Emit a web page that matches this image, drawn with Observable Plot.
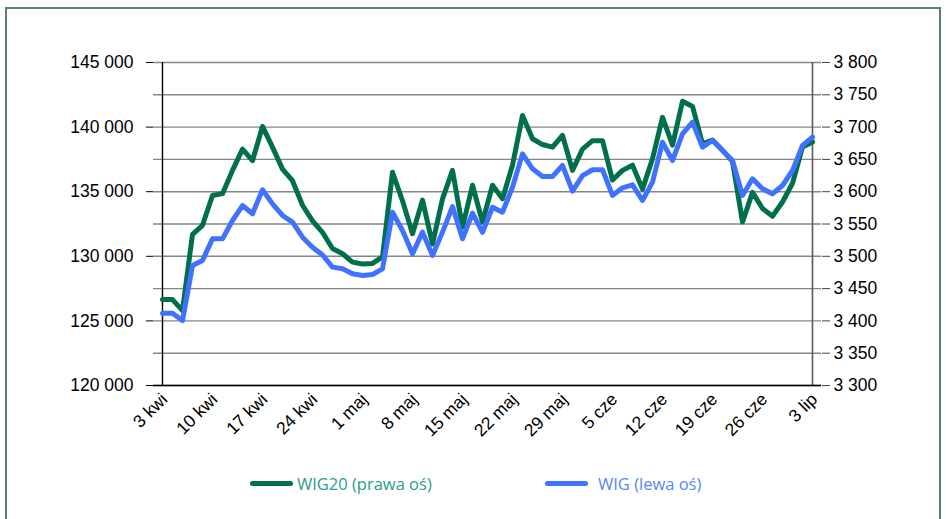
<!DOCTYPE html>
<html><head><meta charset="utf-8">
<script src="https://cdn.jsdelivr.net/npm/d3@7"></script>
<script src="https://cdn.jsdelivr.net/npm/@observablehq/plot@0.6"></script>
<style>
body{margin:0;background:#fff;}
#wrap{position:relative;width:946px;height:519px;overflow:hidden;font-family:"Liberation Sans",Arial,sans-serif;}
#frame{position:absolute;left:5px;top:7px;width:936px;height:530px;border:2px solid #5b7f7c;box-sizing:border-box;}
#chart{position:absolute;left:0;top:0;width:946px;}
#chart svg{max-width:none;}
#legend{position:absolute;top:471px;left:0;width:946px;height:24px;font-family:"Open Sans",sans-serif;font-size:16.5px;}
.item{position:absolute;top:0;display:flex;align-items:center;height:24px;white-space:nowrap}
.sw{width:43px;height:5px;border-radius:3px}
</style></head>
<body>
<div id="wrap">
  <div id="frame"></div>
  <div id="chart"></div>
  <div id="legend"></div>
</div>
<script>
const dates = [
 "2023-04-03","2023-04-04","2023-04-05","2023-04-06","2023-04-07",
 "2023-04-10","2023-04-11","2023-04-12","2023-04-13","2023-04-14",
 "2023-04-17","2023-04-18","2023-04-19","2023-04-20","2023-04-21",
 "2023-04-24","2023-04-25","2023-04-26","2023-04-27","2023-04-28",
 "2023-05-01","2023-05-02","2023-05-03","2023-05-04","2023-05-05",
 "2023-05-08","2023-05-09","2023-05-10","2023-05-11","2023-05-12",
 "2023-05-15","2023-05-16","2023-05-17","2023-05-18","2023-05-19",
 "2023-05-22","2023-05-23","2023-05-24","2023-05-25","2023-05-26",
 "2023-05-29","2023-05-30","2023-05-31","2023-06-01","2023-06-02",
 "2023-06-05","2023-06-06","2023-06-07","2023-06-08","2023-06-09",
 "2023-06-12","2023-06-13","2023-06-14","2023-06-15","2023-06-16",
 "2023-06-19","2023-06-20","2023-06-21","2023-06-22","2023-06-23",
 "2023-06-26","2023-06-27","2023-06-28","2023-06-29","2023-06-30",
 "2023-07-03"
];
const tickLabels = ["3 kwi","10 kwi","17 kwi","24 kwi","1 maj","8 maj","15 maj","22 maj","29 maj","5 cze","12 cze","19 cze","26 cze","3 lip"];
// WIG20 (right axis)
const wig20 = [
 3433,3433,3416,3534,3548, 3594,3597,3633,3666,3648,
 3701,3669,3635,3617,3579, 3555,3537,3512,3504,3491,
 3488,3489,3499,3630,3586, 3535,3587,3519,3589,3633,
 3545,3610,3553,3610,3589, 3641,3718,3682,3673,3669,
 3687,3633,3666,3679,3679, 3618,3633,3641,3604,3651,
 3715,3672,3740,3732,3674, 3680,3664,3647,3553,3599,
 3574,3562,3584,3613,3669, 3677
];
// WIG (left axis)
const wig = [
 125600,125600,125030,129290,129680, 131350,131350,132770,133930,133290,
 135150,134060,133160,132640,131480, 130700,130100,129160,129030,128650,
 128510,128590,129030,133410,132000, 130190,131870,130060,131870,133850,
 131360,133340,131850,133800,133410, 135350,137930,136770,136180,136180,
 137030,135040,136250,136700,136700, 134710,135300,135530,134320,135740,
 138830,137420,139480,140380,138450, 138960,138190,137420,134710,136000,
 135220,134840,135480,136640,138580, 139220
];
const leftTicks = [120000,125000,130000,135000,140000,145000];
const rightTicks = [3300,3350,3400,3450,3500,3550,3600,3650,3700,3750,3800];
const seriesNames = ["WIG20 (prawa oś)","WIG (lewa oś)"];
const colors = ["#006f4c","#4172ff"];
const textColors = ["#2a9d8a","#5585ff"];

const toLeft = v => 120000 + (v - 3300) * 50;
const fmt = d => d3.format(",")(d).replace(/,/g, " ");
const rows20 = dates.map((d, i) => ({d, v: toLeft(wig20[i])}));
const rowsW = dates.map((d, i) => ({d, v: wig[i]}));
const tickDates = dates.filter((d, i) => i % 5 === 0);
const labelOf = new Map(tickDates.map((d, i) => [d, tickLabels[i]]));

const chart = Plot.plot({
  width: 946, height: 450,
  marginLeft: 153, marginRight: 125, marginTop: 62, marginBottom: 65,
  style: {fontFamily: "Liberation Sans, Arial, sans-serif", fontSize: "17.5px", color: "#000", background: "transparent", overflow: "visible"},
  x: {type: "point", domain: dates, padding: 0, range: [153, 821]},
  y: {domain: [120000, 145000], range: [385, 62]},
  marks: [
    Plot.ruleY(rightTicks.map(toLeft), {stroke: "#868686", strokeWidth: 1.4}),
    Plot.ruleX([dates[0]], {stroke: "#000", strokeWidth: 1.4}),
    Plot.ruleX([dates[dates.length - 1]], {stroke: "#595959", strokeWidth: 1.6}),
    Plot.ruleY([120000], {stroke: "#000", strokeWidth: 1.6}),
    Plot.axisY({anchor: "left", ticks: leftTicks, tickFormat: fmt, tickSize: 7, tickPadding: 13, label: null, stroke: "#000"}),
    Plot.axisY({anchor: "right", ticks: rightTicks.map(toLeft), tickFormat: d => fmt(3300 + (d - 120000) / 50), tickSize: 8, tickPadding: 4, label: null, stroke: "#444"}),
    Plot.axisX({ticks: tickDates, tickFormat: d => labelOf.get(d), tickRotate: -45, tickSize: 0, tickPadding: 11, dx: 2, label: null}),
    Plot.lineY(rows20, {x: "d", y: "v", stroke: colors[0], strokeWidth: 5, strokeLinejoin: "round", strokeLinecap: "round"}),
    Plot.lineY(rowsW, {x: "d", y: "v", stroke: colors[1], strokeWidth: 5, strokeLinejoin: "round", strokeLinecap: "round"})
  ]
});
document.getElementById("chart").appendChild(chart);

const legend = document.getElementById("legend");
const lefts = [250, 545];
const gaps = [4, 10];
seriesNames.forEach((name, i) => {
  const it = document.createElement("div");
  it.className = "item";
  it.style.left = lefts[i] + "px";
  it.innerHTML = `<span class="sw" style="background:${colors[i]};margin-right:${gaps[i]}px"></span><span style="color:${textColors[i]}">${name}</span>`;
  legend.appendChild(it);
});
</script>
</body></html>
